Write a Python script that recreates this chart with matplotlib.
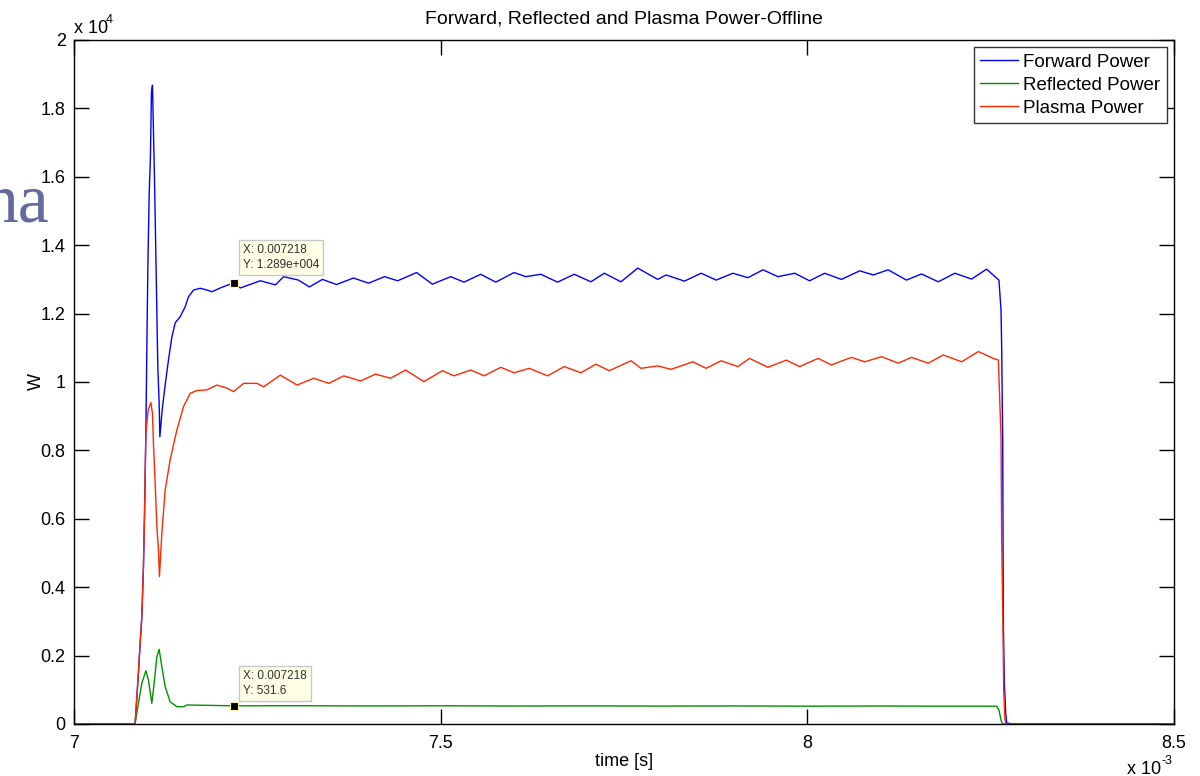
import matplotlib
matplotlib.use('Agg')
import matplotlib.pyplot as plt
from matplotlib.ticker import FuncFormatter

plt.rcParams['font.family'] = ['Liberation Sans', 'DejaVu Sans']

# time in ms, power in W
t_fwd = [7.0000, 7.0820, 7.0833, 7.0878, 7.0902, 7.0925, 7.0947, 7.0961, 7.0980, 7.0993,
         7.1007, 7.1025, 7.1042, 7.1056, 7.1070, 7.1097, 7.1111, 7.1124, 7.1143, 7.1161,
         7.1171, 7.1202, 7.1243, 7.1288, 7.1335, 7.1380, 7.1448, 7.1516, 7.1561, 7.1630,
         7.1721, 7.1813, 7.1881, 7.1995, 7.2104, 7.2180, 7.2268, 7.2541, 7.2746, 7.2859,
         7.3060, 7.3210, 7.3388, 7.3579, 7.3811, 7.4016, 7.4235, 7.4413, 7.4672, 7.4887,
         7.5137, 7.5318, 7.5546, 7.5751, 7.6001, 7.6161, 7.6366, 7.6594, 7.6821, 7.7049,
         7.7231, 7.7459, 7.7687, 7.7960, 7.8074, 7.8324, 7.8552, 7.8757, 7.8985, 7.9190,
         7.9395, 7.9600, 7.9827, 8.0031, 8.0236, 8.0464, 8.0715, 8.0898, 8.1102, 8.1352,
         8.1557, 8.1785, 8.2012, 8.2240, 8.2445, 8.2559, 8.2613, 8.2641, 8.2650, 8.2664,
         8.2673, 8.2687, 8.2705, 8.2719, 8.2800, 8.5000]
p_fwd = [0, 0, 0, 1480, 2360, 3140, 4600, 6060, 8500, 10940,
         13360, 15500, 16580, 18450, 18680, 16000, 14350, 12780, 10440, 9390,
         8400, 9180, 9910, 10640, 11320, 11730, 11910, 12200, 12490, 12690,
         12740, 12690, 12640, 12750, 12840, 12890, 12750, 12960, 12840, 13080,
         12980, 12780, 13000, 12850, 13040, 12890, 13080, 12960, 13200, 12860,
         13080, 12920, 13150, 12920, 13200, 13080, 13150, 12920, 13150, 12930,
         13180, 12930, 13330, 13000, 13130, 12950, 13180, 12980, 13180, 13050,
         13280, 13080, 13180, 12960, 13180, 13000, 13250, 13130, 13280, 12980,
         13160, 12930, 13180, 13010, 13300, 13080, 12980, 12100, 11030, 8300,
         2950, 1200, 320, 30, 0, 0]

t_refl = [7.0000, 7.0820, 7.0833, 7.0878, 7.0925, 7.0980, 7.1015, 7.1061, 7.1093, 7.1130,
          7.1161, 7.1198, 7.1243, 7.1311, 7.1403, 7.1493, 7.1540, 7.2180, 7.3000, 7.4000,
          7.5000, 7.6000, 7.7000, 7.8000, 7.9000, 8.0000, 8.1000, 8.2000, 8.2582, 8.2613,
          8.2641, 8.2660, 8.2800, 8.5000]
p_refl = [0, 0, 0, 605, 1190, 1558, 1287, 605, 1190, 1968,
          2184, 1675, 1091, 652, 506, 506, 556, 531.6, 535, 528,
          533, 526, 530, 524, 528, 522, 526, 520, 520, 410,
          117, 0, 0, 0]

t_plas = [7.0000, 7.0820, 7.0833, 7.0878, 7.0902, 7.0925, 7.0947, 7.0961, 7.0980, 7.1011,
          7.1048, 7.1070, 7.1083, 7.1107, 7.1130, 7.1152, 7.1165, 7.1198, 7.1243, 7.1311,
          7.1403, 7.1493, 7.1585, 7.1676, 7.1813, 7.1949, 7.2086, 7.2176, 7.2313, 7.2496,
          7.2586, 7.2814, 7.3042, 7.3269, 7.3474, 7.3679, 7.3907, 7.4112, 7.4317, 7.4522,
          7.4772, 7.5023, 7.5182, 7.5410, 7.5592, 7.5820, 7.6001, 7.6206, 7.6458, 7.6684,
          7.6913, 7.7117, 7.7299, 7.7596, 7.7732, 7.7960, 7.8142, 7.8438, 7.8620, 7.8825,
          7.9053, 7.9212, 7.9463, 7.9713, 7.9895, 8.0146, 8.0328, 8.0601, 8.0783, 8.1011,
          8.1239, 8.1421, 8.1649, 8.1854, 8.2104, 8.2332, 8.2537, 8.2605, 8.2627, 8.2641,
          8.2650, 8.2664, 8.2678, 8.2695, 8.2712, 8.2800, 8.5000]
p_plas = [0, 0, 0, 1480, 2360, 3140, 4600, 6060, 8500, 9180,
          9400, 9080, 8210, 7040, 5770, 5090, 4310, 5580, 6840, 7720,
          8600, 9280, 9670, 9750, 9770, 9910, 9820, 9720, 9960, 9960,
          9860, 10200, 9910, 10110, 9960, 10180, 10030, 10230, 10110, 10350,
          10010, 10330, 10180, 10350, 10180, 10430, 10270, 10400, 10180, 10450,
          10270, 10520, 10330, 10620, 10400, 10470, 10370, 10590, 10400, 10620,
          10450, 10690, 10430, 10640, 10450, 10690, 10500, 10720, 10590, 10740,
          10550, 10720, 10550, 10790, 10590, 10890, 10690, 10640, 9280, 8400,
          5380, 3430, 990, 120, 0, 0, 0]

tip_t = 7.218
tip_fwd = 12890
tip_refl = 531.6

fig = plt.figure(figsize=(12, 7.76), dpi=100)
ax = fig.add_axes([74/1200, 52/776, 1100/1200, 684/776])

ax.plot([v*1e-3 for v in t_fwd], p_fwd, color='#0000ff', lw=1.0, label='Forward Power')
ax.plot([v*1e-3 for v in t_refl], p_refl, color='#009000', lw=1.0, label='Reflected Power')
ax.plot([v*1e-3 for v in t_plas], p_plas, color='#ff2800', lw=1.0, label='Plasma Power')

ax.set_xlim(7.0e-3, 8.5e-3)
ax.set_ylim(0, 20000)
ax.set_xticks([7.0e-3, 7.5e-3, 8.0e-3, 8.5e-3])
ax.set_yticks(range(0, 20001, 2000))
ax.xaxis.set_major_formatter(FuncFormatter(lambda v, p: '%g' % round(v*1e3, 3)))
ax.yaxis.set_major_formatter(FuncFormatter(lambda v, p: '%g' % round(v/1e4, 3)))
ax.tick_params(direction='in', length=11, width=1, labelsize=13, top=True, right=True)
ax.tick_params(axis='y', pad=6)
ax.tick_params(axis='x', pad=8)
for s in ax.spines.values():
    s.set_linewidth(1)

ax.set_title('Forward, Reflected and Plasma Power-Offline', fontsize=14, pad=12)
ax.set_xlabel('time [s]', fontsize=13, labelpad=1)
ax.set_ylabel('W', fontsize=13, labelpad=-3)

# MATLAB style exponent labels
fig.text(74/1200, 1 - 33/776, 'x 10', fontsize=13, ha='left', va='baseline')
fig.text(106/1200, 1 - 23/776, '4', fontsize=9, ha='left', va='baseline')
fig.text(1127/1200, 1 - 774/776, 'x 10', fontsize=13, ha='left', va='baseline')
fig.text(1161/1200, 1 - 764/776, '-3', fontsize=9, ha='left', va='baseline')

leg = ax.legend(loc='upper right', bbox_to_anchor=(0.9936, 0.9898), borderaxespad=0,
                fancybox=False, framealpha=1, edgecolor='#333333', fontsize=13.5,
                handlelength=2.0, handletextpad=0.3, labelspacing=0.32, borderpad=0.35)
leg.get_frame().set_linewidth(1)

# data tips
box = dict(boxstyle='square,pad=0.35', fc='#ffffe6', ec='#c8c8c8', lw=1)
for val, txt, dy in [(tip_fwd, 'X: 0.007218\nY: 1.289e+004', 12),
                     (tip_refl, 'X: 0.007218\nY: 531.6', 9)]:
    ax.plot(tip_t*1e-3, val, 's', color='black', ms=6, mec='#fff4b0', mew=0.8, zorder=5)
    ax.annotate(txt, xy=(tip_t*1e-3, val), xytext=(9, dy), textcoords='offset pixels',
                ha='left', va='bottom', fontsize=8.5, color='#303030', bbox=box,
                linespacing=1.35, zorder=6)

# stray slide text behind the figure
fig.text(49/1200, 1 - 222/776, 'na', fontsize=50, family='Liberation Serif',
         color='#6469a0', ha='right', va='baseline')

fig.savefig('out.png', dpi=100)
